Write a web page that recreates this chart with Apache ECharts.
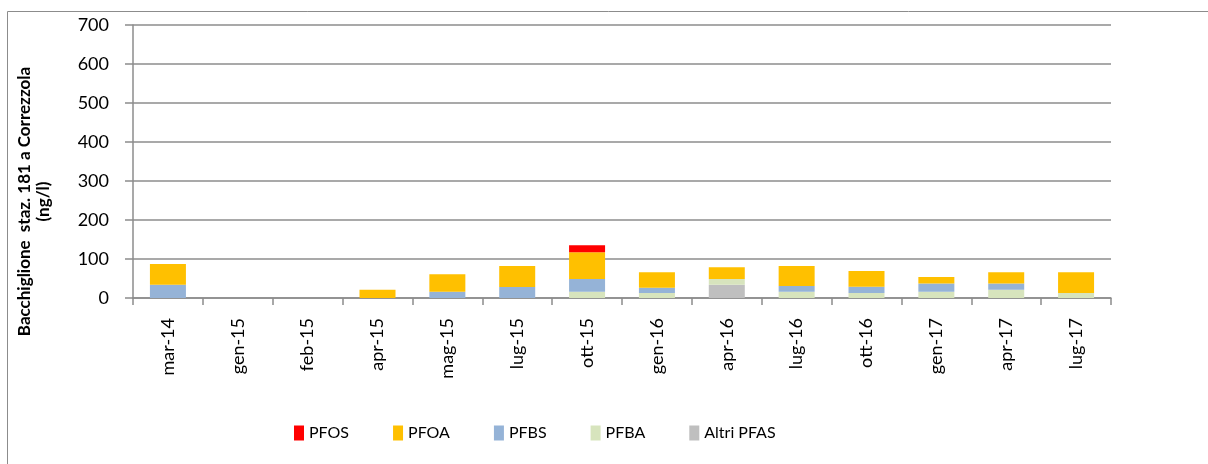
<!DOCTYPE html>
<html>
<head>
<meta charset="utf-8">
<script src="https://cdn.jsdelivr.net/npm/echarts@6/dist/echarts.min.js"></script>
<style>
  html, body { margin: 0; padding: 0; background: #fff; }
  #main { width: 1208px; height: 464px; }
</style>
</head>
<body>
<div id="main"></div>
<script>
// data (ng/l)
const categories = ['mar-14', 'gen-15', 'feb-15', 'apr-15', 'mag-15', 'lug-15', 'ott-15',
  'gen-16', 'apr-16', 'lug-16', 'ott-16', 'gen-17', 'apr-17', 'lug-17'];
const pfos  = [0, null, null, 0, 0, 0, 18, 0, 0, 0, 0, 0, 0, 0];
const pfoa  = [53, null, null, 21, 45, 54, 68, 40, 30, 51, 40, 17, 29, 53];
const pfbs  = [34, null, null, 0, 16, 28, 33, 13, 0, 15, 16, 21, 16, 0];
const pfba  = [0, null, null, 0, 0, 0, 16, 13, 15, 16, 13, 16, 21, 13];
const altri = [0, null, null, 0, 0, 0, 0, 0, 34, 0, 0, 0, 0, 0];
const yTicks = [0, 700, 100]; // min, max, step

const font = 'Lato, "Open Sans", sans-serif';
const gridColor = '#8c8c8c';

const myChart = echarts.init(document.getElementById('main'));

function bar(name, data, color) {
  return {
    name: name,
    type: 'bar',
    stack: 'tot',
    data: data,
    barWidth: 36,
    itemStyle: { color: color },
    emphasis: { disabled: true }
  };
}

const chartOpts = {
  animation: false,
  textStyle: { fontFamily: font },
  graphic: [{
    type: 'rect',
    shape: { x: 7.5, y: 11.5, width: 1220, height: 470 },
    style: { fill: null, stroke: '#8c8c8c', lineWidth: 1 },
    silent: true
  }],
  legend: {
    left: 289,
    top: 420,
    icon: 'rect',
    itemWidth: 10,
    itemHeight: 15,
    itemGap: 44,
    textStyle: { fontFamily: font, fontSize: 16, color: '#000' },
    data: ['PFOS', 'PFOA', 'PFBS', 'PFBA', 'Altri PFAS']
  },
  grid: { left: 133, right: 97, top: 25, bottom: 166, outerBoundsMode: 'none' },
  xAxis: {
    type: 'category',
    data: categories,
    boundaryGap: true,
    axisLine: { lineStyle: { color: gridColor, width: 1.5 } },
    axisTick: { show: true, length: 7, lineStyle: { color: gridColor, width: 1.5 } },
    axisLabel: { rotate: 90, margin: 20, fontFamily: font, fontSize: 18, color: '#000' }
  },
  yAxis: {
    type: 'value',
    min: yTicks[0],
    max: yTicks[1],
    interval: yTicks[2],
    name: 'Bacchiglione  staz. 181 a Correzzola\n(ng/l)',
    nameLocation: 'middle',
    nameRotate: 90,
    nameGap: 80,
    nameTextStyle: { fontFamily: font, fontSize: 17, fontWeight: 'bold', color: '#000', lineHeight: 19, padding: [0, 80, 0, 0] },
    axisLine: { show: true, lineStyle: { color: gridColor, width: 1.5 } },
    axisTick: { show: true, length: 8, lineStyle: { color: gridColor, width: 1.5 } },
    axisLabel: { margin: 24, fontFamily: font, fontSize: 18, color: '#000' },
    splitLine: { lineStyle: { color: gridColor, width: 1.5 } }
  },
  series: [
    bar('Altri PFAS', altri, '#bfbfbf'),
    bar('PFBA', pfba, '#d7e4bd'),
    bar('PFBS', pfbs, '#95b3d7'),
    bar('PFOA', pfoa, '#ffc000'),
    bar('PFOS', pfos, '#ff0000')
  ]
};
myChart.setOption(chartOpts);
</script>
</body>
</html>
